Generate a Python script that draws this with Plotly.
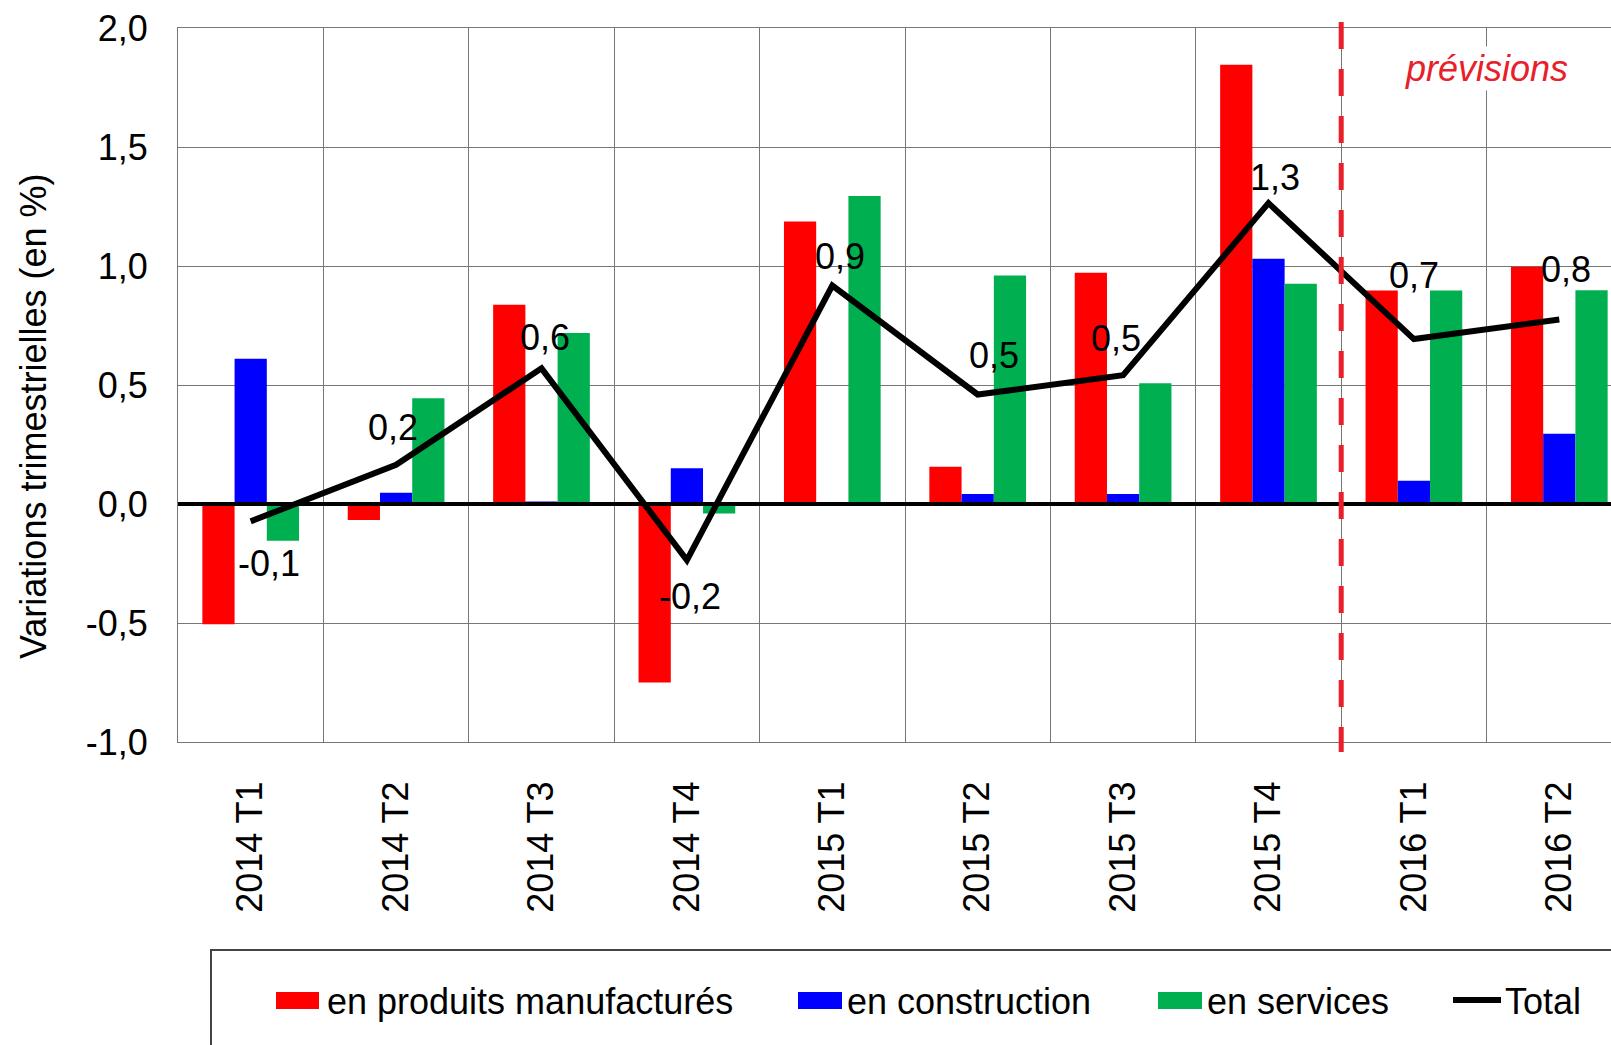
import plotly.graph_objects as go

# ---------------- data ----------------
categories = ["2014 T1", "2014 T2", "2014 T3", "2014 T4", "2015 T1",
              "2015 T2", "2015 T3", "2015 T4", "2016 T1", "2016 T2"]
manufactures = [-0.505, -0.067, 0.837, -0.75, 1.187, 0.157, 0.972, 1.846, 0.897, 0.997]
construction = [0.61, 0.047, 0.01, 0.15, 0.0, 0.042, 0.042, 1.03, 0.098, 0.295]
services = [-0.154, 0.444, 0.719, -0.04, 1.294, 0.96, 0.507, 0.925, 0.897, 0.898]
total = [-0.073, 0.165, 0.57, -0.236, 0.918, 0.46, 0.541, 1.264, 0.693, 0.775]

series_names = ["en produits manufacturés", "en construction", "en services", "Total"]
y_tickvals = [-1.0, -0.5, 0.0, 0.5, 1.0, 1.5, 2.0]
y_ticktext = ["-1,0", "-0,5", "0,0", "0,5", "1,0", "1,5", "2,0"]
y_title = "Variations trimestrielles (en %)"
forecast_label = "prévisions"
forecast_boundary = 7.5  # between 2015 T4 and 2016 T1

# ---------------- styles ----------------
FONT = "Arial, 'Liberation Sans', Helvetica, sans-serif"
RED, BLUE, GREEN = "#FF0000", "#0000FF", "#00B050"
GRID = "#777777"
FW, FH = 1611, 1045
ML, MR, MT, MB = 178, 0, 28, 303
PW, PH = FW - ML - MR, FH - MT - MB
CAT_W = 145.4  # pixel width of a category


def px_x(x):
    return (x - ML) / PW


def px_y(y):
    return (MT + PH - y) / PH


# label offsets (px) for the total labels: (dx, dy up)
label_offsets = [(18, -42), (-3, 37), (3, 31), (3, -36), (8, 29),
                 (16, 39), (-7, 37), (6, 26), (0, 64), (7, 50)]

fig = go.Figure()
for name, vals, col in zip(series_names[:3], [manufactures, construction, services], [RED, BLUE, GREEN]):
    fig.add_trace(go.Bar(x=categories, y=vals, name=name, marker=dict(color=col, line=dict(width=0)),
                         showlegend=False))

fig.add_trace(go.Scatter(x=categories, y=total, name=series_names[3], mode="lines",
                         line=dict(color="black", width=6), showlegend=False))

annotations = []
for i, (c, v) in enumerate(zip(categories, total)):
    dx, dy = label_offsets[i]
    annotations.append(dict(x=c, y=v, xref="x", yref="y", text=f"{v:.1f}".replace(".", ","),
                            showarrow=False, xshift=dx, yshift=dy, xanchor="center", yanchor="middle",
                            font=dict(family=FONT, size=36, color="black")))

# y axis title
annotations.append(dict(x=px_x(33), y=px_y(417), xref="paper", yref="paper", text=y_title,
                        textangle=-90, showarrow=False, xanchor="center", yanchor="middle",
                        font=dict(family=FONT, size=36, color="black")))

# forecast label
annotations.append(dict(x=px_x(1486), y=px_y(68), xref="paper", yref="paper",
                        text="<i>" + forecast_label + "</i>", showarrow=False,
                        xanchor="center", yanchor="middle", bgcolor="white",
                        font=dict(family=FONT, size=36, color="#E8202A")))

shapes = []
# zero line
shapes.append(dict(type="line", xref="paper", yref="y", x0=0, x1=1, y0=0, y1=0,
                   line=dict(color="black", width=4), layer="above"))
# forecast dashed line
shapes.append(dict(type="line", xref="x", yref="paper", x0=forecast_boundary, x1=forecast_boundary,
                   y0=px_y(22), y1=px_y(752), line=dict(color="#E8202A", width=5, dash="27px,20px"),
                   layer="above"))

# manual legend
shapes.append(dict(type="rect", xref="paper", yref="paper", x0=px_x(211), x1=px_x(1640),
                   y0=px_y(950), y1=px_y(1080), line=dict(color="#444444", width=2),
                   fillcolor="rgba(0,0,0,0)"))
legend_items = [(RED, 276, 319, 325), (BLUE, 798, 842, 845), (GREEN, 1158, 1202, 1205)]
for (col, x0, x1, tx), name in zip(legend_items, series_names[:3]):
    shapes.append(dict(type="rect", xref="paper", yref="paper", x0=px_x(x0), x1=px_x(x1),
                       y0=px_y(992), y1=px_y(1009), line=dict(width=0), fillcolor=col))
    annotations.append(dict(x=px_x(tx), y=px_y(1001), xref="paper", yref="paper", text=name,
                            showarrow=False, xanchor="left", yanchor="middle",
                            font=dict(family=FONT, size=36, color="black")))
shapes.append(dict(type="line", xref="paper", yref="paper", x0=px_x(1453), x1=px_x(1501),
                   y0=px_y(1000), y1=px_y(1000), line=dict(color="black", width=6)))
annotations.append(dict(x=px_x(1503), y=px_y(1001), xref="paper", yref="paper", text=series_names[3],
                        showarrow=False, xanchor="left", yanchor="middle",
                        font=dict(family=FONT, size=36, color="black")))

fig.update_layout(
    width=FW, height=FH,
    margin=dict(l=ML, r=MR, t=MT, b=MB, pad=0),
    paper_bgcolor="white", plot_bgcolor="white",
    barmode="group", bargap=0.335, bargroupgap=0,
    font=dict(family=FONT, size=36, color="black"),
    annotations=annotations, shapes=shapes,
    showlegend=False,
)
fig.update_xaxes(type="category", range=[-0.5, -0.5 + PW / CAT_W], tickson="boundaries",
                 showgrid=True, gridcolor=GRID, gridwidth=1, tickangle=-90, ticks="",
                 ticklabelstandoff=24, showline=True, mirror=True, linecolor=GRID, linewidth=1,
                 tickfont=dict(family=FONT, size=36, color="black"), fixedrange=True)
fig.update_yaxes(range=[-1.0, 2.0], tickvals=y_tickvals, ticktext=y_ticktext, showgrid=True,
                 gridcolor=GRID, gridwidth=1, zeroline=False, ticks="", ticklabelstandoff=22,
                 showline=True, linecolor=GRID, linewidth=1,
                 tickfont=dict(family=FONT, size=36, color="black"), fixedrange=True)

fig.write_html("out.html", config={"displayModeBar": False},
               post_script="document.body.style.margin='0';")
